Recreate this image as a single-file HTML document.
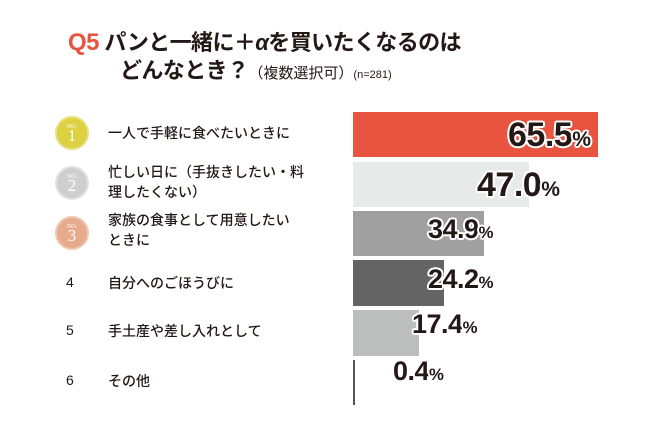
<!DOCTYPE html>
<html><head><meta charset="utf-8"><style>
body{margin:0;width:648px;height:432px;background:#fff;overflow:hidden;position:relative;font-family:"Liberation Sans","Noto Sans CJK JP",sans-serif;color:#231815}
.a{position:absolute;white-space:nowrap}
.t{font-weight:bold;font-size:22px;line-height:26px;letter-spacing:-0.6px}
.l{font-size:14px;line-height:20px;font-weight:500}
.bar{position:absolute;left:353px}
.v{position:absolute;font-weight:bold;color:#231815;text-shadow:2px 0 #fff,-2px 0 #fff,0 2px #fff,0 -2px #fff,1.5px 1.5px #fff,-1.5px -1.5px #fff,1.5px -1.5px #fff,-1.5px 1.5px #fff;letter-spacing:-0.5px;white-space:nowrap}
.v span{font-size:0.62em;letter-spacing:0}
.m{position:absolute;width:30px;height:30px;border-radius:50%;text-align:center;font-family:"Liberation Serif",serif;color:#fff;font-size:17px;line-height:36px}
.m:before{content:"NO.";position:absolute;top:-9px;left:0;right:0;font-size:6px}
.n{position:absolute;font-size:14px;left:66px}
</style></head><body>
<div class="a t" style="left:68px;top:30px"><span style="color:#e8543f;font-size:24px">Q5</span> パンと一緒に＋<i>α</i>を買いたくなるのは</div>
<div class="a t" style="left:120px;top:58px">どんなとき？<span style="font-size:15px;font-weight:normal;letter-spacing:0">（複数選択可）</span><span style="font-size:11px;font-weight:normal;letter-spacing:0">(n=281)</span></div>

<div class="m" style="left:55px;top:116px;background:#dcd143;border:2px solid #e8e07a">1</div>
<div class="m" style="left:55px;top:166px;background:#cfcfcf;border:2px solid #e2e2e2">2</div>
<div class="m" style="left:55px;top:216px;background:#e5ab8c;border:2px solid #f0c7b0">3</div>
<div class="n" style="top:274px">4</div>
<div class="n" style="top:322px">5</div>
<div class="n" style="top:372px">6</div>

<div class="a l" style="left:108px;top:123px">一人で手軽に食べたいときに</div>
<div class="a l" style="left:108px;top:162px">忙しい日に（手抜きしたい・料<br>理したくない）</div>
<div class="a l" style="left:108px;top:210px">家族の食事として用意したい<br>ときに</div>
<div class="a l" style="left:108px;top:273px">自分へのごほうびに</div>
<div class="a l" style="left:108px;top:321px">手土産や差し入れとして</div>
<div class="a l" style="left:108px;top:371px">その他</div>

<div class="bar" style="top:112px;width:245px;height:45px;background:#e8543f"></div>
<div class="bar" style="top:162px;width:176px;height:45px;background:#e8e9e9"></div>
<div class="bar" style="top:211px;width:131px;height:45px;background:#a0a0a0"></div>
<div class="bar" style="top:260px;width:91px;height:46px;background:#646464"></div>
<div class="bar" style="top:310px;width:66px;height:46px;background:#bcbdbd"></div>
<div class="bar" style="top:360px;width:2px;height:45px;background:#555"></div>

<div class="v" style="left:508px;top:116px;font-size:34px">65.5<span>%</span></div>
<div class="v" style="left:477px;top:166px;font-size:34px">47.0<span>%</span></div>
<div class="v" style="left:428px;top:214px;font-size:27px">34.9<span>%</span></div>
<div class="v" style="left:428px;top:264px;font-size:27px">24.2<span>%</span></div>
<div class="v" style="left:412px;top:309px;font-size:27px">17.4<span>%</span></div>
<div class="v" style="left:393px;top:356px;font-size:27px">0.4<span>%</span></div>
</body></html>
